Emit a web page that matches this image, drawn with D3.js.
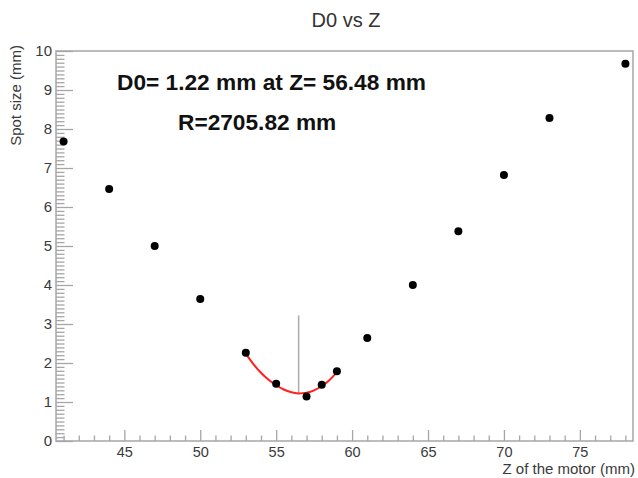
<!DOCTYPE html>
<html><head><meta charset="utf-8">
<script src="https://cdn.jsdelivr.net/npm/d3@7"></script>
<style>body{margin:0;background:#fff;}svg{display:block;font-family:"Liberation Sans",Arial,sans-serif;}</style>
</head><body>
<script>
// Data
const zValues = [41,44,47,50,53,55,57,58,59,61,64,67,70,73,78];
const spotSizes = [7.68,6.46,5.00,3.64,2.26,1.47,1.14,1.44,1.79,2.64,4.00,5.38,6.82,8.28,9.67];
const fitZ = [53,53.5,54,54.5,55,55.5,56,56.48,57,57.5,58,58.5,59];
const fitD = [2.24,1.97,1.75,1.57,1.43,1.32,1.25,1.22,1.24,1.30,1.41,1.56,1.76];
const markerZ = [56.48, 56.48];
const markerD = [1.22, 3.22];
const xMajorTicks = [45,50,55,60,65,70,75];
const yMajorTicks = [0,1,2,3,4,5,6,7,8,9,10];
const titleText = "D0 vs Z";
const xTitle = "Z of the motor (mm)";
const yTitle = "Spot size (mm)";
const annot1 = "D0= 1.22 mm at Z= 56.48 mm";
const annot2 = "R=2705.82 mm";

const W = 638, H = 478;
const L = 56, R = 633, T = 51, B = 441;
const svg = d3.select("body").append("svg").attr("width", W).attr("height", H);
const x = d3.scaleLinear().domain([40.5, 78.5]).range([L, R]);
const y = d3.scaleLinear().domain([0, 10]).range([B, T]);
const axisCol = "#a6a6a6", textCol = "#3a3a3a";

// frame
svg.append("rect").attr("x", L).attr("y", T).attr("width", R - L).attr("height", B - T)
  .attr("fill", "none").attr("stroke", axisCol).attr("stroke-width", 1.5);

// x axis
const xMinor = d3.range(41, 79, 1);
const gx = svg.append("g").attr("transform", `translate(0,${B})`);
gx.call(d3.axisBottom(x).tickValues(xMinor).tickSize(0).tickFormat(""));
gx.select(".domain").remove();
gx.selectAll(".tick line").remove();
gx.selectAll(".tick").append("line").attr("y1", 0)
  .attr("y2", d => xMajorTicks.includes(d) ? -11 : -5.5)
  .attr("stroke", axisCol).attr("stroke-width", 1.3);
const gxl = svg.append("g").attr("transform", `translate(0,${B})`);
gxl.call(d3.axisBottom(x).tickValues(xMajorTicks).tickSize(0).tickPadding(0).tickFormat(d3.format("d")));
gxl.select(".domain").remove();
gxl.selectAll("text").attr("dy", null).attr("y", 16).attr("fill", textCol)
  .style("font-size", "14.5px").style("font-family", "Liberation Sans, Arial, sans-serif");

// y axis
const yMinor = d3.range(0, 100.5, 1).map(v => v / 10);
const gy = svg.append("g").attr("transform", `translate(${L},0)`);
gy.call(d3.axisLeft(y).tickValues(yMinor).tickSize(0).tickFormat(""));
gy.select(".domain").remove();
gy.selectAll(".tick line").remove();
gy.selectAll(".tick").append("line").attr("x1", 0)
  .attr("x2", d => (Math.abs(d - Math.round(d)) < 1e-6) ? 17 : 8.5)
  .attr("stroke", axisCol).attr("stroke-width", 1.3);
const gyl = svg.append("g").attr("transform", `translate(${L},0)`);
gyl.call(d3.axisLeft(y).tickValues(yMajorTicks).tickSize(0).tickPadding(4).tickFormat(d3.format("d")));
gyl.select(".domain").remove();
gyl.selectAll("text").attr("fill", textCol)
  .style("font-size", "15px").style("font-family", "Liberation Sans, Arial, sans-serif");

// titles
svg.append("text").attr("x", 346).attr("y", 27).attr("text-anchor", "middle")
  .attr("fill", "#333").style("font-size", "20px").text(titleText);
svg.append("text").attr("x", 635).attr("y", 474).attr("text-anchor", "end")
  .attr("fill", textCol).style("font-size", "15px").text(xTitle);
svg.append("text").attr("transform", "translate(21,45) rotate(-90)").attr("text-anchor", "end")
  .attr("fill", textCol).style("font-size", "15px").text(yTitle);

// marker line
svg.append("line").attr("x1", x(markerZ[0])).attr("x2", x(markerZ[1]))
  .attr("y1", y(markerD[0])).attr("y2", y(markerD[1]))
  .attr("stroke", "#aaaaaa").attr("stroke-width", 1.5);

// fit curve
const line = d3.line().x((d, i) => x(fitZ[i])).y(d => y(d)).curve(d3.curveNatural);
svg.append("path").attr("d", line(fitD)).attr("fill", "none")
  .attr("stroke", "#ff2020").attr("stroke-width", 2);

// points
svg.append("g").selectAll("circle").data(spotSizes).join("circle")
  .attr("cx", (d, i) => x(zValues[i])).attr("cy", d => y(d)).attr("r", 4).attr("fill", "#000");

// annotations
svg.append("text").attr("x", 117).attr("y", 89.5).attr("fill", "#111")
  .style("font-size", "22.7px").style("font-weight", "bold").text(annot1);
svg.append("text").attr("x", 178).attr("y", 130).attr("fill", "#111")
  .style("font-size", "22.7px").style("font-weight", "bold").text(annot2);
</script>
</body></html>
